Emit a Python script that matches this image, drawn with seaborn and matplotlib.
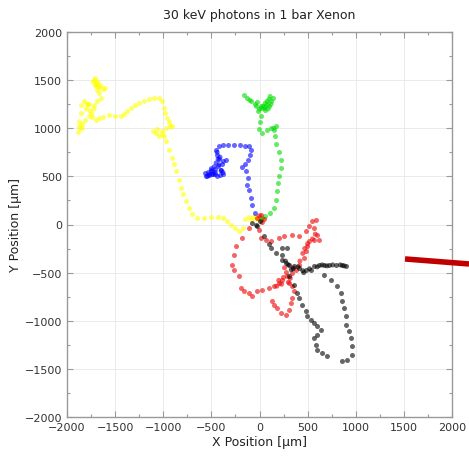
import numpy as np
import pandas as pd
import matplotlib
matplotlib.use("Agg")
import matplotlib.pyplot as plt
import seaborn as sns
from matplotlib.ticker import MultipleLocator

# ---- data (micrometres) ----
yellow_x = [-21, -62, -104, -145, -166, -208, -249, -291, -332, -374, -426, -499, -571, -644, -696, -727, -758,
            -790, -810, -831, -862, -883, -904, -935, -966, -987, -1008, -1039, -1070, -1101, -1060, -1008, -966,
            -925, -904, -935, -956, -977, -987, -1008, -1039, -1091, -1143, -1195, -1247, -1288, -1330, -1371,
            -1403, -1434, -1496, -1558, -1621, -1662, -1694, -1735, -1766, -1808, -1839, -1860, -1881, -1870,
            -1870, -1849, -1849, -1818, -1766, -1714, -1683, -1642, -1662, -1683, -1704, -1714, -1704, -1673,
            -1662, -1621, -1600,
            -1800, -1780, -1760, -1740, -1720, -1700, -1690, -1680, -1650, -1730, -1840, -1790, 0, -40, -80]
yellow_y = [52, 73, 73, 52, -42, -73, -42, -10, 31, 62, 73, 73, 62, 62, 104, 166, 239,
            312, 374, 457, 551, 623, 686, 769, 862, 914, 935, 914, 945, 966, 987, 966, 997,
            1018, 1018, 1060, 1101, 1153, 1205, 1278, 1309, 1309, 1299, 1278, 1257, 1236, 1205, 1174,
            1143, 1122, 1122, 1133, 1112, 1101, 1080, 1112, 1122, 1080, 1039, 997, 956, 1018,
            1070, 1153, 1236, 1278, 1247, 1236, 1278, 1309, 1361, 1392, 1444, 1496, 1517, 1465,
            1424, 1403, 1413,
            1200, 1240, 1180, 1150, 1200, 1450, 1480, 1430, 1440, 1480, 1000, 1250, 60, 80, 40]

blue_x = [-42, -73, -83, -104, -125, -114, -135, -177, -145, -114, -94, -83, -104, -145, -197, -260, -322,
          -374, -416, -447, -436, -416, -374, -343, -384, -426, -457, -488, -530, -561, -551, -519, -488,
          -457, -436, -405, -374, -395,
          -520, -500, -470, -450, -430, -410, -460, -540, -400, -380, -440, -480, -500, -420]
blue_y = [114, 197, 270, 353, 405, 478, 551, 592, 623, 665, 717, 769, 810, 810, 821, 821, 821,
          821, 810, 769, 717, 675, 655, 665, 623, 603, 571, 551, 540, 530, 499, 509, 519,
          519, 499, 509, 519, 561,
          520, 560, 600, 640, 680, 700, 540, 500, 560, 540, 750, 520, 580, 620]

green_x = [21, 62, 114, 156, 177, 187, 197, 208, 229, 229, 208, 177, 166, 156, 177, 125, 83, 31, 0, 10,
           21, -10, -31, -21, 21, 52, 83, 125, 145, 104, 62, 21, -42, -83, -125, -156,
           40, 60, 80, 100, 120, 60, 0, -100, 90, 110, 150, 30]
green_y = [42, 83, 114, 166, 249, 343, 426, 499, 582, 665, 748, 831, 914, 977, 1018, 997, 977, 945, 987,
           1060, 1122, 1174, 1226, 1268, 1226, 1205, 1247, 1278, 1309, 1226, 1184, 1205, 1247, 1278,
           1309, 1340,
           1230, 1260, 1280, 1300, 1250, 1220, 1200, 1290, 1200, 1330, 1000, 60]

red_x = [-21, 21, 52, 0, 21, 73, 125, 208, 260, 343, 416, 488, 519, 551, 592, 571, 603, 623, 571, 519,
         499, 488, 468, 416, 384, 343, 291, 239, 208, 156, 104, 31, -21, -73, -104, -156, -187, -208,
         -260, -281, -260, -239, -177, -104,
         312, 343, 364, 343, 332, 312, 281, 229, 187, 156, 135,
         250, 280, 300, 200, 230, 350, 420, 450, 470, 500, 550, 580, 260, 320, 180, 0, 30]
red_y = [62, 94, 52, -62, -145, -166, -177, -145, -125, -114, -125, -73, -21, 31, 42, -42, -114, -166,
         -166, -177, -229, -281, -353, -426, -478, -509, -540, -582, -613, -644, -665, -686, -696, -748,
         -717, -696, -665, -540, -478, -426, -322, -229, -145, -42,
         -613, -644, -696, -769, -821, -893, -945, -925, -873, -842, -800,
         -550, -500, -600, -580, -620, -450, -380, -300, -250, -200, -150, -100, -450, -560, -640, 90, 20]

black_x = [-73, -21, 52, 104, 125, 177, 239, 291, 239, 239, 281, 312, 364, 416, 488, 540, 571, 623, 675,
           727, 800, 862, 904,
           675, 748, 810, 852, 862, 883, 904, 904, 935, 956, 966, 966, 914, 862,
           312, 364, 395, 416, 447, 488, 499, 540, 571, 603, 644, 603, 571, 592, 603, 655, 706,
           350, 400, 450, 520, 600, 650, 700, 760, 840, 880, 300, 270, 330, 460, 10, -30]
black_y = [10, -21, -125, -208, -249, -301, -249, -249, -322, -374, -405, -426, -436, -457, -478, -478,
           -436, -426, -426, -426, -426, -426, -436,
           -530, -582, -644, -717, -800, -873, -956, -1049, -1112, -1184, -1268, -1361, -1413, -1423,
           -540, -634, -717, -769, -842, -904, -956, -997, -1028, -1060, -1101, -1153, -1184, -1257,
           -1309, -1340, -1371,
           -460, -440, -480, -460, -440, -420, -430, -420, -420, -430, -420, -380, -470, -500, 30, -10]

track_names = ["yellow", "blue", "green", "red", "black"]
track_colors = ["#ffff00", "#0000ff", "#00dd00", "#ee0000", "#000000"]

arrow_x = [1512, 2177]
arrow_y = [-358, -410]

title = "30 keV photons in 1 bar Xenon"
xlabel = "X Position [µm]"
ylabel = "Y Position [µm]"

# ---- build table ----
frames = []
for name, xs, ys in zip(track_names,
                        [yellow_x, blue_x, green_x, red_x, black_x],
                        [yellow_y, blue_y, green_y, red_y, black_y]):
    frames.append(pd.DataFrame({"x": xs, "y": ys, "track": name}))
df = pd.concat(frames, ignore_index=True)

sns.set_theme(style="white")
plt.rcParams['font.family'] = ['DejaVu Sans']

fig = plt.figure(figsize=(4.69, 4.60), dpi=100)
ax = fig.add_axes([67/469, 42/460, 385/469, 385/460])

sns.scatterplot(data=df, x="x", y="y", hue="track", hue_order=track_names,
                palette=dict(zip(track_names, track_colors)), s=13, alpha=0.6,
                edgecolor="none", legend=False, ax=ax)

ax.plot(arrow_x, arrow_y, color="#c00000", lw=4, clip_on=False, solid_capstyle="butt", zorder=5)

ax.set_xlim(-2000, 2000)
ax.set_ylim(-2000, 2000)
ax.xaxis.set_major_locator(MultipleLocator(500))
ax.yaxis.set_major_locator(MultipleLocator(500))
ax.xaxis.set_minor_locator(MultipleLocator(250))
ax.yaxis.set_minor_locator(MultipleLocator(250))
ax.grid(True, which="major", color="#e8e8e8", lw=0.6)
ax.set_axisbelow(True)
ax.tick_params(which="both", direction="in", top=True, right=True, bottom=True, left=True,
               color="#999999", labelsize=8, labelcolor="#333333")
ax.tick_params(which="major", length=4, width=0.8)
ax.tick_params(which="minor", length=2, width=0.8)
for sp in ax.spines.values():
    sp.set_color("#999999")
    sp.set_linewidth(1.0)

ax.set_title(title, fontsize=9, color="#222222", pad=10)
ax.set_xlabel(xlabel, fontsize=9, color="#222222", labelpad=2)
ax.set_ylabel(ylabel, fontsize=9, color="#222222", labelpad=2)

fig.savefig("out.png", dpi=100)
